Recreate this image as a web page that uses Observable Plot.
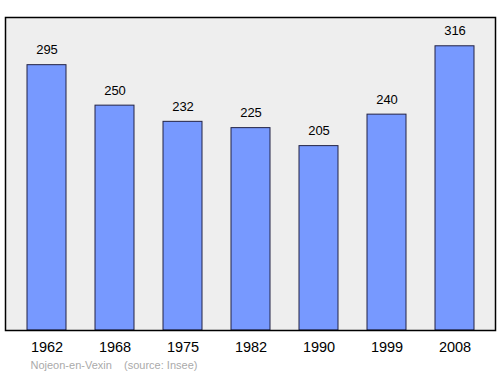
<!DOCTYPE html>
<html>
<head>
<meta charset="utf-8">
<script src="https://cdn.jsdelivr.net/npm/d3@7"></script>
<script src="https://cdn.jsdelivr.net/npm/@observablehq/plot@0.6"></script>
<style>
  body { margin: 0; background: #fff; }
  svg { font-family: "Liberation Sans", Arial, sans-serif; }
</style>
</head>
<body>
<div id="chart"></div>
<script>
const years = ["1962", "1968", "1975", "1982", "1990", "1999", "2008"];
const population = [295, 250, 232, 225, 205, 240, 316];
const caption = "Nojeon-en-Vexin    (source: Insee)";

const data = years.map((y, i) => ({year: y, pop: population[i]}));

const chart = Plot.plot({
  width: 500,
  height: 374,
  marginTop: 17,
  marginBottom: 44,
  marginLeft: 5,
  marginRight: 5,
  style: {fontFamily: "Liberation Sans, Arial, sans-serif", background: "#fff"},
  x: {domain: years, paddingInner: 0.43, paddingOuter: 0.3, label: null},
  y: {domain: [0, 348], axis: null},
  marks: [
    Plot.frame({fill: "#eeeeee"}),
    Plot.barY(data, {x: "year", y: "pop", fill: "#7799ff", stroke: "#222244", strokeWidth: 1}),
    Plot.text(data, {x: "year", y: "pop", text: d => String(d.pop), dy: -15, fontSize: 13, fill: "#000"}),
    Plot.frame({stroke: "#000", strokeWidth: 1.5}),
    Plot.axisX({tickSize: 0, tickPadding: 11, fontSize: 14.5, label: null, color: "#000"}),
    Plot.text([caption], {frameAnchor: "bottom-left", text: d => d, dx: 25, dy: 38, fontSize: 11, fill: "#aaaaaa", textAnchor: "start"})
  ]
});
document.getElementById("chart").append(chart);
</script>
</body>
</html>
